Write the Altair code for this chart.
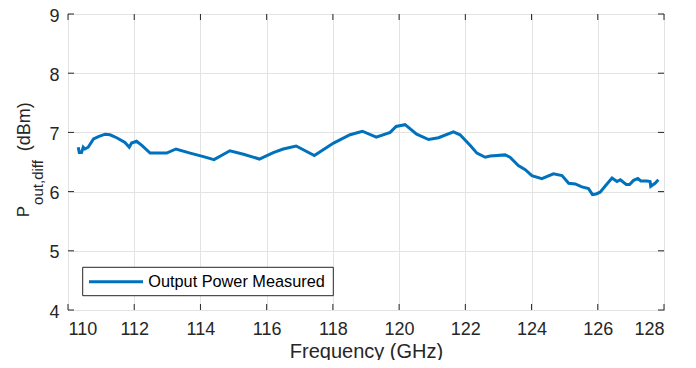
import altair as alt
import pandas as pd

# Data
freq_ghz = [110.31, 110.34, 110.41, 110.46, 110.51, 110.61, 110.77, 110.92, 111.12, 111.27,
            111.47, 111.72, 111.85, 111.92, 112.07, 112.23, 112.48, 112.98, 113.26, 113.69,
            114.09, 114.41, 114.89, 115.30, 115.78, 116.20, 116.50, 116.89, 117.44, 118.02,
            118.52, 118.89, 119.31, 119.73, 119.91, 120.18, 120.53, 120.89, 121.19, 121.64,
            121.84, 122.15, 122.35, 122.60, 122.75, 123.20, 123.35, 123.60, 123.81, 124.01,
            124.31, 124.66, 124.92, 125.12, 125.32, 125.52, 125.72, 125.84, 125.95, 126.07,
            126.22, 126.43, 126.58, 126.68, 126.86, 126.96, 127.08, 127.21, 127.30, 127.48,
            127.58, 127.60, 127.73, 127.83]
power_dbm = [6.75, 6.66, 6.66, 6.75, 6.72, 6.75, 6.89, 6.93, 6.97, 6.96,
             6.91, 6.83, 6.75, 6.82, 6.85, 6.78, 6.65, 6.65, 6.72, 6.65,
             6.59, 6.54, 6.69, 6.63, 6.55, 6.66, 6.72, 6.77, 6.61, 6.82,
             6.96, 7.02, 6.92, 7.00, 7.10, 7.13, 6.97, 6.88, 6.91, 7.01,
             6.96, 6.78, 6.65, 6.58, 6.60, 6.62, 6.58, 6.44, 6.37, 6.27,
             6.22, 6.30, 6.27, 6.14, 6.13, 6.08, 6.05, 5.95, 5.96, 5.99,
             6.09, 6.23, 6.17, 6.20, 6.12, 6.12, 6.19, 6.22, 6.18, 6.18,
             6.17, 6.09, 6.14, 6.20]
series_name = "Output Power Measured"
x_ticks = [110, 112, 114, 116, 118, 120, 122, 124, 126, 128]
y_ticks = [4, 5, 6, 7, 8, 9]

W, H = 596, 296
FONT = "Liberation Sans"
INK = "#262626"
BLUE = "#0072BD"

df = pd.DataFrame({"f": freq_ghz, "p": power_dbm, "series": series_name})
df["order"] = range(len(df))
xt = pd.DataFrame({"t": x_ticks})
yt = pd.DataFrame({"t": y_ticks})

xscale = alt.Scale(domain=[110, 128], nice=False, zero=False)
yscale = alt.Scale(domain=[4, 9], nice=False, zero=False)

line = alt.Chart(df).mark_line(strokeWidth=3, color=BLUE).encode(
    x=alt.X("f:Q", scale=xscale,
            axis=alt.Axis(values=x_ticks, title="Frequency (GHz)", format="d")),
    y=alt.Y("p:Q", scale=yscale, axis=alt.Axis(values=y_ticks, title=None, format="d")),
    order="order:Q",
)

tick_len = 6
xt_bottom = alt.Chart(xt).mark_rule(color=INK, strokeWidth=1).encode(
    x=alt.X("t:Q", scale=xscale), y=alt.value(H), y2=alt.value(H - tick_len))
xt_top = alt.Chart(xt).mark_rule(color=INK, strokeWidth=1).encode(
    x=alt.X("t:Q", scale=xscale), y=alt.value(0), y2=alt.value(tick_len))
yt_left = alt.Chart(yt).mark_rule(color=INK, strokeWidth=1).encode(
    y=alt.Y("t:Q", scale=yscale), x=alt.value(0), x2=alt.value(tick_len))
yt_right = alt.Chart(yt).mark_rule(color=INK, strokeWidth=1).encode(
    y=alt.Y("t:Q", scale=yscale), x=alt.value(W), x2=alt.value(W - tick_len))

# y-axis title with subscript: P_{out,diff} (dBm)
def vtext(s, size, x, y):
    return alt.Chart(pd.DataFrame({"s": [s]})).mark_text(
        angle=270, font=FONT, fontSize=size, color=INK, align="center", baseline="middle"
    ).encode(text="s:N", x=alt.value(x), y=alt.value(y))

ytitle_main = vtext("P", 17, -43.8, 197.5)
ytitle_sub = vtext("out,diff", 15, -30.5, 168.5)
ytitle_unit = vtext("(dBm)", 18, -43.2, 112.7)

# legend (box, sample line, label)
leg = pd.DataFrame({"s": [series_name]})
leg_box = alt.Chart(leg).mark_rect(fill="white", stroke=INK, strokeWidth=1).encode(
    x=alt.value(14.7), x2=alt.value(265.3), y=alt.value(253.3), y2=alt.value(281.7))
leg_line = alt.Chart(leg).mark_rule(color=BLUE, strokeWidth=3).encode(
    x=alt.value(21), x2=alt.value(75), y=alt.value(267.7))
leg_text = alt.Chart(leg).mark_text(
    font=FONT, fontSize=16.3, color="black", align="left", baseline="middle"
).encode(text="s:N", x=alt.value(80.3), y=alt.value(267.7))

chart = alt.layer(
    line, xt_bottom, xt_top, yt_left, yt_right, ytitle_main, ytitle_sub, ytitle_unit,
    leg_box, leg_line, leg_text
).properties(
    width=W, height=H,
    autosize=alt.AutoSizeParams(type="none"),
    padding={"left": 60, "top": 6, "right": 24, "bottom": 50},
).configure_view(
    stroke=INK, strokeWidth=1
).configure_axis(
    grid=True, gridColor="#e3e3e3", gridWidth=1, domain=False, ticks=False, tickSize=0,
    labelFont=FONT, labelFontSize=18, labelColor=INK,
    titleFont=FONT, titleFontSize=20, titleFontWeight="normal", titleColor=INK,
).configure_axisX(
    labelPadding=10, titlePadding=3
).configure_axisY(
    labelPadding=9, labelOffset=2
)

chart.save("out.html", embed_options={"renderer": "svg", "actions": False})
